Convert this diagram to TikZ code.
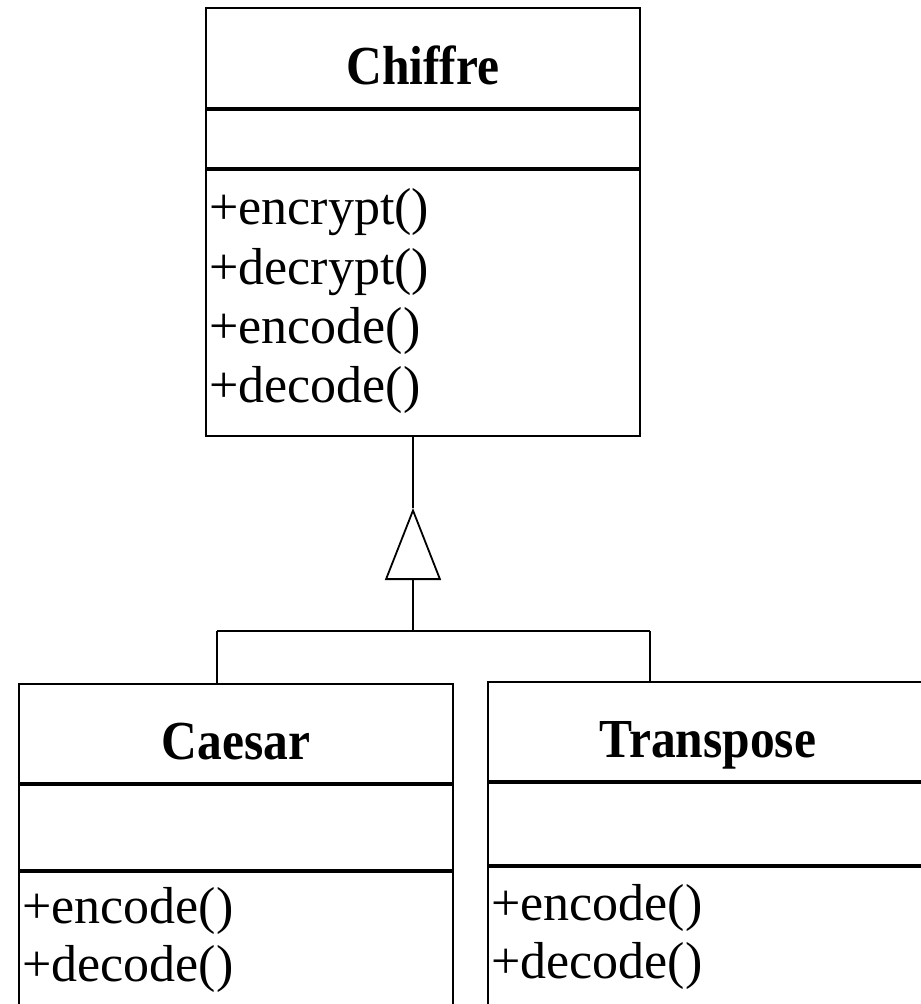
\documentclass[tikz,border=0pt]{standalone}
\usepackage{fontspec}
\setmainfont{Liberation Serif}
\newfontfamily\titlefont{Liberation Serif}[FakeStretch=0.9]
\usetikzlibrary{arrows.meta, positioning}

\tikzset{
  compart/.style={draw, line width=1.8pt, inner sep=0pt, minimum width=434pt},
  classname/.style={compart, text height=52pt, text depth=0pt,
    font=\fontsize{55}{60}\titlefont\bfseries},
  opline/.style={anchor=west, inner sep=0pt, font=\fontsize{52}{58}\selectfont},
  link/.style={line width=1.8pt},
  inherit/.style={link, -{Triangle[open, length=72pt, width=56pt]}}
}

\begin{document}
\begin{tikzpicture}[x=1pt, y=-1pt]
    \useasboundingbox (0,0) rectangle (921,1004);
    \clip (0,0) rectangle (921,1004);
    % Chiffre class
    \node[classname, minimum height=100pt] (chiffre) at (423,58) {Chiffre};
    \node[compart, minimum height=58pt, below=0pt of chiffre] (chiffreattr) {};
    \node[compart, minimum height=266pt, below=0pt of chiffreattr] (chiffreops) {};
    \node[opline] (encrypt) at (209,212) {+encrypt()};
    \node[opline] (decrypt) at (209,272) {+decrypt()};
    \node[opline] (encodec) at (209,331) {+encode()};
    \node[opline] (decodec) at (209,390) {+decode()};
    % Caesar class
    \node[classname, minimum height=99pt] (caesar) at (236,733.5) {Caesar};
    \node[compart, minimum height=85pt, below=0pt of caesar] (caesarattr) {};
    \node[compart, minimum height=200pt, below=0pt of caesarattr] (caesarops) {};
    \node[opline] (encodea) at (22,911) {+encode()};
    \node[opline] (decodea) at (22,969) {+decode()};
    % Transpose class
    \node[classname, minimum width=440pt, minimum height=99pt] (transpose) at (708,731.5) {Transpose};
    \node[compart, minimum width=440pt, minimum height=82pt, below=0pt of transpose] (transattr) {};
    \node[compart, minimum width=440pt, minimum height=200pt, below=0pt of transattr] (transops) {};
    \node[opline] (encodet) at (491,908) {+encode()};
    \node[opline] (decodet) at (491,966) {+decode()};
    % Generalisation
    \coordinate (apex) at (413,508);
    \coordinate (bar)  at (413,631);
    \coordinate (barl) at (217,631);
    \coordinate (barr) at (650,631);
    \draw[link] (chiffreops.south -| apex) -- (apex);
    \draw[inherit] (bar) -- (apex);
    \draw[link] (barl) -- (barr);
    \draw[link] (barl) -- (caesar.north -| barl);
    \draw[link] (barr) -- (transpose.north -| barr);
\end{tikzpicture}
\end{document}
